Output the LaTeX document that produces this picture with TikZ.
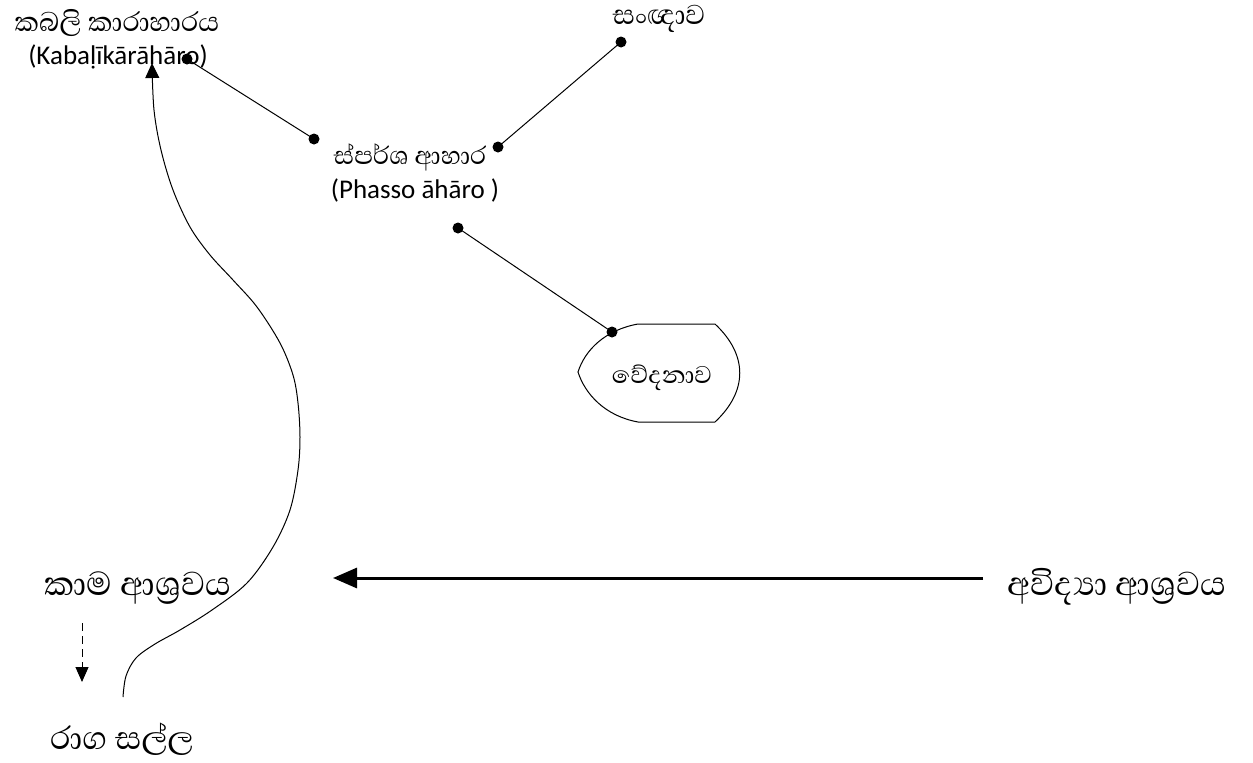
\documentclass[tikz,border=0pt]{standalone}
\usepackage{fontspec}
\setmainfont{Carlito}
\newfontfamily\sinhfont[Script=Sinhala]{Abhaya Libre}
\usetikzlibrary{arrows.meta}
\begin{document}
\begin{tikzpicture}[x=1pt,y=-1pt,
  lbl/.style={inner sep=0pt,anchor=center},
  sismall/.style={lbl,font=\sinhfont\fontsize{32}{34}\selectfont},
  sibig/.style={lbl,font=\sinhfont\fontsize{42.5}{45}\selectfont},
  latin/.style={lbl,font=\fontsize{27}{30}\selectfont},
  conn/.style={line width=1pt},
  dot/.style={circle,fill=black,inner sep=0pt,minimum size=11pt}]
\useasboundingbox (0,0) rectangle (1253,763);
% labels
\node[sismall,font=\sinhfont\fontsize{34.5}{36}\selectfont] (kabS) at (117,23) {කබලි කාරාහාරය};
\node[latin] (kabL) at (118,57) {(Kabaḷīkārāhāro)};
\node[sismall,font=\sinhfont\fontsize{35}{36}\selectfont] (sanj) at (659,19) {සංඥාව};
\node[sismall] (sparS) at (410,157) {ස්පර්ශ ආහාර};
\node[latin] (sparL) at (415,190) {(Phasso āhāro )};
\node[sismall,font=\sinhfont\fontsize{31}{33}\selectfont] (ved) at (662,378) {වේදනාව};
\node[sibig] (kama) at (138,588) {කාම ආශ්‍රවය};
\node[sibig] (avid) at (1117,587) {අවිද්‍යා ආශ්‍රවය};
\node[sibig,font=\sinhfont\fontsize{41}{43}\selectfont] (raga) at (122,739) {රාග සල්ල};
% vedanava shape
\draw[conn] (638,324) -- (715,324) .. controls (748,355) and (748,391) .. (715,422)
  -- (638,422) .. controls (605,416) and (585,394) .. (578,372)
  .. controls (585,350) and (605,330) .. (638,324) -- cycle;
% dots
\node[dot] (d1) at (187,59) {};
\node[dot] (d2) at (314,139) {};
\node[dot] (d3) at (498,147) {};
\node[dot] (d4) at (621,42) {};
\node[dot] (d5) at (458,228) {};
\node[dot] (d6) at (612,332) {};
\draw[conn] (d1.center) -- (d2.center);
\draw[conn] (d3.center) -- (d4.center);
\draw[conn] (d5.center) -- (d6.center);
% thick arrow
\coordinate (ta) at (983,578);
\coordinate (tb) at (333,578);
\draw[line width=3pt,-{Triangle[length=24pt,width=20pt]}] (ta) -- (tb);
% dashed arrow
\coordinate (da) at (82,623);
\coordinate (db) at (82,682);
\draw[conn,dash pattern=on 8pt off 5pt,-{Triangle[length=15pt,width=13pt]}] (da) -- (db);
% curve
\coordinate (cs) at (123,697);
\coordinate (ce) at (152,63);
\draw[conn,-{Triangle[length=15pt,width=14pt]}] plot[smooth,tension=0.55] coordinates
  {(cs) (126,676) (136,658) (155,644) (180,630) (212,610) (247,583) (273,547) (290,510) (298,470) (300,437) (298,403) (293,375) (280,343) (257,307) (233,280) (210,255) (190,227) (173,190) (161,150) (154,110) (ce)};
\end{tikzpicture}
\end{document}
